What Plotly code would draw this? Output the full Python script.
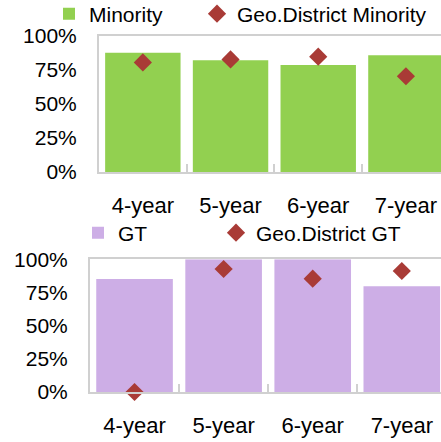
import plotly.graph_objects as go

categories = ["4-year", "5-year", "6-year", "7-year"]
minority = [0.877, 0.821, 0.787, 0.858]
geo_minority = [0.806, 0.828, 0.848, 0.704]
gt = [0.852, 1.0, 1.0, 0.796]
geo_gt = [0.0, 0.927, 0.854, 0.912]
yticks = [0, 0.25, 0.5, 0.75, 1.0]
ytick_labels = ["0%", "25%", "50%", "75%", "100%"]

W, H = 441, 442
GREEN = "#92D050"
PURPLE = "#CDAEE6"
RED = "#A93B36"
AXIS = "#D0D0D0"
FONT = dict(family="Liberation Sans, Arial, sans-serif", size=21, color="#000000")
XFONT = dict(family="Liberation Sans, Arial, sans-serif", size=22, color="#000000")

def px_x(v):
    return v / W

def px_y(v):
    return 1 - v / H

fig = go.Figure()
fig.add_trace(go.Bar(x=categories, y=minority, name="Minority", marker=dict(color=GREEN, line=dict(width=0)),
                     xaxis="x", yaxis="y", legend="legend"))
fig.add_trace(go.Scatter(x=categories, y=geo_minority, name="Geo.District Minority", mode="markers",
                         marker=dict(symbol="diamond", size=14, color=RED), cliponaxis=False,
                         xaxis="x", yaxis="y", legend="legend2"))
fig.add_trace(go.Bar(x=categories, y=gt, name="GT", marker=dict(color=PURPLE, line=dict(width=0)),
                     xaxis="x2", yaxis="y2", legend="legend3"))
fig.add_trace(go.Scatter(x=categories, y=geo_gt, name="Geo.District GT", mode="markers",
                         marker=dict(symbol="diamond", size=14, color=RED), cliponaxis=False,
                         xaxis="x2", yaxis="y2", legend="legend4"))

xcommon = dict(type="category", showline=True, linecolor=AXIS, linewidth=2, mirror=True,
               ticks="inside", tickson="boundaries", ticklen=8, tickcolor=AXIS, tickwidth=2,
               showgrid=False, tickfont=XFONT, ticklabelstandoff=13, zeroline=False)
ycommon = dict(range=[0, 1], tickvals=yticks, ticktext=ytick_labels, showline=True, linecolor=AXIS,
               linewidth=2, showgrid=False, zeroline=False, ticks="outside", ticklen=16,
               tickcolor="rgba(0,0,0,0)", tickfont=FONT)

def leg(xpx, ypx):
    return dict(orientation="h", x=px_x(xpx), y=px_y(ypx), xanchor="left", yanchor="middle",
                font=FONT, bgcolor="rgba(0,0,0,0)", itemclick=False, itemdoubleclick=False)

fig.update_layout(
    width=W, height=H, margin=dict(l=0, r=0, t=0, b=0, autoexpand=False),
    plot_bgcolor="white", paper_bgcolor="white",
    bargap=0.14, font=FONT,
    xaxis=dict(domain=[px_x(99), 1], range=[-0.5, 3.4], anchor="y", **xcommon),
    yaxis=dict(domain=[px_y(172), px_y(36)], anchor="x", **ycommon),
    xaxis2=dict(domain=[px_x(90), 1], range=[-0.5, 3.44], anchor="y2", **xcommon),
    yaxis2=dict(domain=[px_y(392), px_y(259.3)], anchor="x2", **ycommon),
    legend=leg(49, 14),
    legend2=leg(197, 14),
    legend3=leg(78, 233),
    legend4=leg(216, 233),
    showlegend=True,
)

fig.write_html("out.html", config={"displayModeBar": False},
               post_script="document.body.style.margin='0';document.body.style.overflow='hidden';")
